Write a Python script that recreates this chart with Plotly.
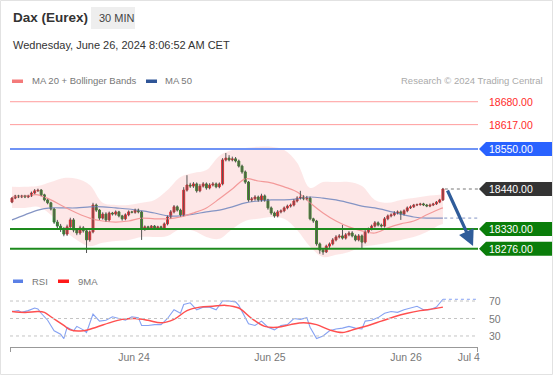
import plotly.graph_objects as go

# ---------------- data ----------------
closes = [
    18415, 18421, 18418, 18421, 18418, 18421, 18429, 18435, 18437, 18424,
    18410, 18402, 18385, 18349, 18338, 18330, 18316, 18336, 18355, 18327,
    18319, 18333, 18325, 18300, 18322, 18396, 18382, 18360, 18371, 18355,
    18374, 18371, 18377, 18366, 18358, 18369, 18377, 18376, 18382, 18377,
    18330, 18336, 18333, 18338, 18333, 18336, 18333, 18344, 18363, 18377,
    18391, 18382, 18369, 18437, 18451, 18448, 18454, 18435, 18448, 18454,
    18443, 18451, 18454, 18446, 18454, 18520, 18525, 18520, 18523, 18517,
    18503, 18487, 18459, 18410, 18413, 18418, 18410, 18421, 18410, 18388,
    18374, 18366, 18377, 18380, 18388, 18393, 18396, 18407, 18415, 18418,
    18413, 18415, 18358, 18352, 18289, 18272, 18267, 18283, 18289, 18300,
    18308, 18311, 18305, 18314, 18319, 18311, 18300, 18311, 18294, 18322,
    18330, 18338, 18347, 18341, 18338, 18358, 18366, 18369, 18374, 18377,
    18371, 18380, 18388, 18391, 18396, 18397, 18399, 18396, 18393, 18396,
    18399, 18404, 18410, 18440,
]
first_open = 18404
up_wick = [
    3, 3, 3, 3, 3, 3, 4, 5, 4, 3,
    3, 3, 3, 3, 6, 6, 5, 6, 6, 5,
    5, 6, 5, 4, 4, 6, 4, 3, 5, 5,
    4, 3, 4, 3, 3, 4, 4, 3, 4, 4,
    3, 4, 3, 3, 3, 3, 3, 4, 4, 5,
    5, 4, 4, 8, 27, 6, 5, 4, 6, 5,
    4, 5, 5, 4, 4, 5, 14, 8, 6, 5,
    4, 4, 4, 3, 5, 5, 4, 6, 4, 3,
    4, 4, 5, 4, 4, 4, 4, 5, 5, 17,
    5, 6, 4, 3, 3, 4, 4, 4, 4, 5,
    5, 5, 30, 5, 5, 5, 4, 5, 4, 5,
    4, 4, 5, 4, 4, 5, 4, 4, 5, 4,
    4, 4, 4, 4, 3, 3, 3, 3, 3, 4,
    3, 3, 3, 3,
]
down_wick = [
    3, 3, 3, 3, 3, 3, 3, 3, 3, 4,
    4, 4, 4, 5, 6, 8, 6, 5, 5, 6,
    6, 5, 5, 36, 5, 4, 5, 5, 4, 5,
    4, 4, 4, 4, 5, 4, 4, 3, 4, 4,
    30, 5, 4, 4, 4, 4, 4, 4, 4, 4,
    4, 4, 5, 4, 4, 5, 5, 5, 4, 4,
    5, 4, 4, 4, 4, 4, 4, 4, 4, 4,
    4, 5, 5, 5, 5, 5, 5, 5, 5, 5,
    5, 5, 4, 4, 4, 4, 4, 4, 4, 4,
    4, 4, 4, 5, 5, 10, 8, 3, 5, 4,
    4, 4, 4, 4, 4, 4, 4, 4, 19, 4,
    4, 4, 4, 4, 4, 4, 4, 4, 4, 4,
    16, 4, 4, 3, 3, 3, 3, 3, 3, 3,
    3, 3, 3, 3,
]

ma_idx = [0, 4, 8, 12, 16, 20, 24, 28, 32, 36, 40, 44, 48, 52, 56, 60, 64, 68,
          72, 76, 80, 84, 88, 92, 96, 100, 104, 108, 112, 116, 120, 124, 128, 132, 133]
ma20 = [18418, 18421, 18424, 18410, 18391, 18374, 18360, 18352, 18349, 18352,
        18360, 18358, 18358, 18363, 18374, 18388, 18413, 18440, 18468, 18462,
        18457, 18446, 18432, 18402, 18374, 18352, 18336, 18325, 18319, 18333,
        18344, 18352, 18369, 18385, 18388]
bb_upper = [18446, 18446, 18448, 18459, 18470, 18468, 18451, 18402, 18396, 18396,
            18402, 18410, 18437, 18473, 18484, 18492, 18531, 18547, 18553, 18556,
            18556, 18547, 18512, 18443, 18459, 18459, 18459, 18448, 18410, 18402,
            18410, 18415, 18421, 18424, 18424]
bb_lower = [18388, 18388, 18391, 18369, 18327, 18300, 18283, 18292, 18297, 18300,
            18308, 18308, 18311, 18330, 18325, 18308, 18303, 18330, 18352, 18358,
            18363, 18358, 18327, 18281, 18253, 18259, 18267, 18281, 18286, 18292,
            18300, 18308, 18322, 18341, 18344]
ma50 = [18355, 18369, 18382, 18388, 18388, 18388, 18391, 18391, 18388, 18385,
        18380, 18374, 18366, 18366, 18371, 18377, 18382, 18391, 18402, 18407,
        18410, 18410, 18413, 18418, 18415, 18410, 18402, 18393, 18388, 18380,
        18371, 18363, 18360, 18360, 18360]

rsi_idx = [0, 2, 3, 5, 7, 8, 9, 11, 13, 15, 16, 17, 18, 19, 20, 22, 23, 25, 27, 29,
           31, 33, 35, 37, 39, 40, 42, 44, 46, 48, 50, 52, 53, 55, 57, 59, 61, 63, 65, 67,
           69, 70, 71, 73, 75, 77, 79, 81, 83, 85, 87, 89, 91, 92, 94, 96, 98, 100, 102, 104,
           106, 108, 109, 111, 113, 115, 117, 119, 121, 123, 125, 127, 129, 131, 133]
rsi_vals = [58, 59, 57, 59, 62, 61, 56, 48, 36, 32, 27, 40, 38, 36, 41, 37, 34, 55, 47, 48,
            52, 50, 48, 52, 51, 42, 42, 43, 43, 50, 60, 56, 66, 68, 60, 63, 63, 60, 70, 70,
            69, 65, 58, 44, 42, 47, 40, 37, 42, 43, 50, 49, 51, 40, 27, 30, 36, 38, 39, 41,
            39, 38, 47, 48, 51, 56, 58, 57, 60, 62, 64, 60, 60, 63, 72]
rsi_ma_idx = [0, 4, 8, 10, 12, 16, 18, 22, 26, 30, 34, 38, 42, 46, 50, 54, 58, 62,
              66, 70, 74, 78, 82, 86, 90, 94, 98, 102, 106, 110, 114, 118, 122, 126, 130, 133]
rsi_ma_vals = [58, 57, 58, 57, 52, 42, 37, 36, 40, 45, 49, 50, 48, 45, 49, 59, 63, 64,
               65, 62, 50, 41, 40, 43, 45, 43, 37, 34, 38, 42, 47, 52, 56, 59, 61, 63]

resistance_levels = [18680, 18617]
pivot_level = 18550
last_price = 18440
support_levels = [18330, 18276]
arrow_target = (142.3, 18283)
rsi_grid = [70, 50, 30]
tick_pos = [37.65, 79.6, 121.6, 141.0]
tick_labels = ["Jun 24", "Jun 25", "Jun 26", "Jul 4"]

# ---------------- geometry ----------------
W, H = 553, 375
ML, MR, MT, MB = 10, 75, 92, 28
PW, PH = W - ML - MR, H - MT - MB
BAR_PX = 3.24
X0 = -(12 - ML) / BAR_PX
X1 = X0 + PW / BAR_PX
PRICE_RANGE = [18239.25, 18706.75]
MAIN_PX = 170
RSI_RANGE = [17.4, 82.6]


def px(xp):
    return (xp - ML) / PW


def py(yp):
    return (H - MB - yp) / PH


FONT = "Arial, Liberation Sans, sans-serif"
RED = "#e3242b"
GREEN = "#228b22"

n = len(closes)
idx = list(range(n))
opens = [first_open] + closes[:-1]
highs = [max(o, c) + u for o, c, u in zip(opens, closes, up_wick)]
lows = [min(o, c) - d for o, c, d in zip(opens, closes, down_wick)]
body_col = [RED if c >= o else GREEN for o, c in zip(opens, closes)]

fig = go.Figure()

# Bollinger band fill
fig.add_trace(go.Scatter(x=ma_idx, y=bb_upper, mode="lines", line=dict(width=0, shape="spline"),
                         hoverinfo="skip", xaxis="x", yaxis="y"))
fig.add_trace(go.Scatter(x=ma_idx, y=bb_lower, mode="lines", line=dict(width=0, shape="spline"),
                         fill="tonexty", fillcolor="rgba(245,110,110,0.17)", hoverinfo="skip",
                         xaxis="x", yaxis="y"))
# MAs
fig.add_trace(go.Scatter(x=ma_idx, y=ma50, mode="lines",
                         line=dict(color="#8494c4", width=1.2, shape="spline"), xaxis="x", yaxis="y"))
fig.add_trace(go.Scatter(x=ma_idx, y=ma20, mode="lines",
                         line=dict(color="#f39a9a", width=1.2, shape="spline"), xaxis="x", yaxis="y"))

# wicks
wx, wy = [], []
for i, lo, hi in zip(idx, lows, highs):
    wx += [i, i, None]
    wy += [lo, hi, None]
fig.add_trace(go.Scatter(x=wx, y=wy, mode="lines", line=dict(color="#555555", width=1),
                         hoverinfo="skip", xaxis="x", yaxis="y"))
# bodies
fig.add_trace(go.Bar(x=idx, y=[c - o for o, c in zip(opens, closes)], base=opens,
                     width=0.6, marker=dict(color=body_col, line=dict(color=body_col, width=1)),
                     xaxis="x", yaxis="y"))

# RSI pane
fig.add_trace(go.Scatter(x=rsi_idx, y=rsi_vals, mode="lines",
                         line=dict(color="#86a2f2", width=1.1), xaxis="x2", yaxis="y2"))
fig.add_trace(go.Scatter(x=rsi_ma_idx, y=rsi_ma_vals, mode="lines",
                         line=dict(color="#ff4f4f", width=1.5, shape="spline"), xaxis="x2", yaxis="y2"))

shapes = []
annots = []

# horizontal levels
for lv in resistance_levels:
    shapes.append(dict(type="line", xref="x", yref="y", x0=X0, x1=X1, y0=lv, y1=lv,
                       line=dict(color="#ff9c9c", width=1)))
    annots.append(dict(xref="paper", yref="y", x=px(487), y=lv, text=f"{lv:.2f}",
                       showarrow=False, xanchor="left", yanchor="middle",
                       font=dict(family=FONT, size=10.5, color="#ff2a2a")))
shapes.append(dict(type="line", xref="x", yref="y", x0=X0, x1=X1, y0=pivot_level, y1=pivot_level,
                   line=dict(color="#6f93f5", width=2)))
for lv in support_levels:
    shapes.append(dict(type="line", xref="x", yref="y", x0=X0, x1=X1, y0=lv, y1=lv,
                       line=dict(color="#1e8a1e", width=2)))

# dotted extensions
shapes.append(dict(type="line", xref="x", yref="y", x0=n - 0.4, x1=X1, y0=last_price, y1=last_price,
                   line=dict(color="#777777", width=1, dash="dot")))
shapes.append(dict(type="line", xref="x", yref="y", x0=n - 0.6, x1=X1, y0=ma50[-1], y1=ma50[-1],
                   line=dict(color="#8494c4", width=1, dash="dot")))

# label boxes with a left-pointing notch
half = 7 * (PRICE_RANGE[1] - PRICE_RANGE[0]) / MAIN_PX
xa, xb, xc = px(479), px(486), px(552)
for lv, col in [(pivot_level, "#2962ff"), (last_price, "#333333"),
                (support_levels[0], "#0a7d0a"), (support_levels[1], "#0a7d0a")]:
    path = (f"M {xa},{lv} L {xb},{lv + half} L {xc},{lv + half} "
            f"L {xc},{lv - half} L {xb},{lv - half} Z")
    shapes.append(dict(type="path", xref="paper", yref="y", path=path,
                       fillcolor=col, line=dict(width=0)))
    annots.append(dict(xref="paper", yref="y", x=px(487), y=lv, text=f"{lv:.2f}",
                       showarrow=False, xanchor="left", yanchor="middle",
                       font=dict(family=FONT, size=10.5, color="white")))

# forecast arrow
annots.append(dict(xref="x", yref="y", axref="x", ayref="y",
                   x=arrow_target[0], y=arrow_target[1], ax=n + 0.2, ay=last_price,
                   text="", showarrow=True, arrowhead=2, arrowsize=1, arrowwidth=3.2,
                   arrowcolor="#2f5c9a"))

# RSI grid + labels + extension
for g in rsi_grid:
    shapes.append(dict(type="line", xref="x2", yref="y2", x0=X0, x1=X1, y0=g, y1=g,
                       line=dict(color="#c4c4c4", width=1, dash="dot")))
    annots.append(dict(xref="paper", yref="y2", x=px(487), y=g, text=str(g), showarrow=False,
                       xanchor="left", yanchor="middle", font=dict(family=FONT, size=10.5, color="#777")))
shapes.append(dict(type="line", xref="x2", yref="y2", x0=rsi_idx[-1], x1=X1,
                   y0=rsi_vals[-1], y1=rsi_vals[-1],
                   line=dict(color="#86a2f2", width=1, dash="dot")))
# axis end ticks
for xp_ in (10.5, 477.5):
    shapes.append(dict(type="line", xref="paper", yref="paper", x0=px(xp_), x1=px(xp_),
                       y0=py(347), y1=py(352), line=dict(color="#999", width=1)))

# header
shapes.append(dict(type="rect", xref="paper", yref="paper", x0=px(91), x1=px(135),
                   y0=py(29), y1=py(7), fillcolor="#eeeeee", line=dict(width=0), layer="below"))
shapes.append(dict(type="rect", xref="paper", yref="paper", x0=px(0.5), x1=px(552.5),
                   y0=py(374.5), y1=py(0.5), line=dict(color="#e2e2e2", width=1), layer="below"))
annots += [
    dict(xref="paper", yref="paper", x=px(11), y=py(18), text="<b>Dax (Eurex)</b>", showarrow=False,
         xanchor="left", yanchor="middle", font=dict(family=FONT, size=13.5, color="#333")),
    dict(xref="paper", yref="paper", x=px(97), y=py(18), text="30 MIN", showarrow=False,
         xanchor="left", yanchor="middle", font=dict(family=FONT, size=11, color="#444")),
    dict(xref="paper", yref="paper", x=px(11), y=py(45),
         text="Wednesday, June 26, 2024 8:06:52 AM CET", showarrow=False,
         xanchor="left", yanchor="middle", font=dict(family=FONT, size=11, color="#333")),
    dict(xref="paper", yref="paper", x=px(30), y=py(81), text="MA 20 + Bollinger Bands",
         showarrow=False, xanchor="left", yanchor="middle",
         font=dict(family=FONT, size=9.5, color="#777")),
    dict(xref="paper", yref="paper", x=px(163), y=py(81), text="MA 50",
         showarrow=False, xanchor="left", yanchor="middle",
         font=dict(family=FONT, size=9.5, color="#777")),
    dict(xref="paper", yref="paper", x=px(545), y=py(81), text="Research © 2024 Trading Central",
         showarrow=False, xanchor="right", yanchor="middle",
         font=dict(family=FONT, size=9.5, color="#aaa")),
    dict(xref="paper", yref="paper", x=px(30), y=py(281), text="RSI",
         showarrow=False, xanchor="left", yanchor="middle",
         font=dict(family=FONT, size=9.5, color="#777")),
    dict(xref="paper", yref="paper", x=px(76), y=py(281), text="9MA",
         showarrow=False, xanchor="left", yanchor="middle",
         font=dict(family=FONT, size=9.5, color="#777")),
]
for x0_, x1_, yc, col in [(12, 23, 81, "#f47a7a"), (146, 157, 81, "#2f5597"),
                          (13, 23, 281, "#5b80e6"), (58, 69, 281, "#ff1a1a")]:
    shapes.append(dict(type="rect", xref="paper", yref="paper", x0=px(x0_), x1=px(x1_),
                       y0=py(yc + 2), y1=py(yc - 1.5), fillcolor=col, line=dict(width=0)))

fig.update_layout(
    width=W, height=H, margin=dict(l=ML, r=MR, t=MT, b=MB),
    paper_bgcolor="white", plot_bgcolor="white", showlegend=False,
    font=dict(family=FONT, color="#666"),
    xaxis=dict(domain=[0, 1], range=[X0, X1], visible=False, anchor="y", fixedrange=True),
    yaxis=dict(domain=[py(262), 1], range=PRICE_RANGE, visible=False, fixedrange=True),
    xaxis2=dict(domain=[0, 1], range=[X0, X1], anchor="y2", showline=True, linecolor="#999",
                linewidth=1, tickvals=tick_pos, ticktext=tick_labels, ticks="", showgrid=False,
                zeroline=False, fixedrange=True, tickfont=dict(family=FONT, size=10.5, color="#777")),
    yaxis2=dict(domain=[0, py(290)], range=RSI_RANGE, visible=False, fixedrange=True),
    shapes=shapes, annotations=annots,
)

fig.write_html(
    "out.html",
    config={"displayModeBar": False},
    post_script="document.body.style.margin='0';document.body.style.overflow='hidden';",
)
